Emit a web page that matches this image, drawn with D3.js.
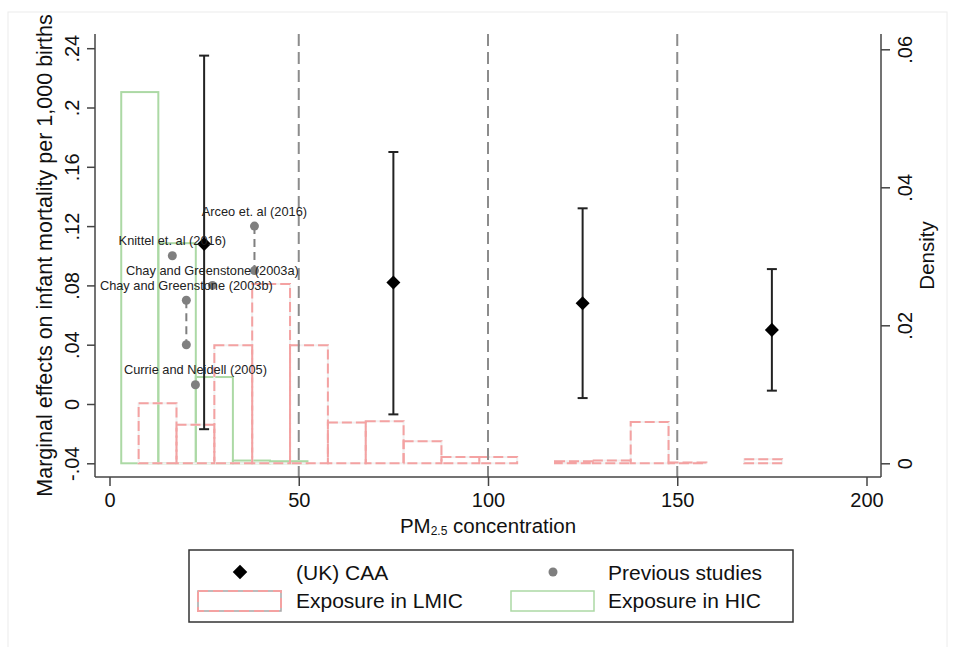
<!DOCTYPE html>
<html>
<head>
<meta charset="utf-8">
<script src="https://cdn.jsdelivr.net/npm/d3@7/dist/d3.min.js"></script>
<style>
  body { margin: 0; background: #fff; }
  svg { font-family: "Liberation Sans", Arial, Helvetica, sans-serif; }
</style>
</head>
<body>
<div id="chart"></div>
<script>
// UK Clean Air Act estimates (marginal effect per 10 units of PM2.5)
const caaX = [25, 75, 125, 175];
const caaEst = [0.108, 0.082, 0.068, 0.050];
const caaLo = [-0.017, -0.007, 0.004, 0.009];
const caaHi = [0.235, 0.170, 0.132, 0.091];

// previous studies
const studyNames = ["Arceo et. al (2016)", "", "Knittel et. al (2016)", "Chay and Greenstone (2003a)",
  "Chay and Greenstone (2003b)", "", "Currie and Neidell (2005)"];
const studyX = [38.3, 38.3, 16.6, 27.2, 20.3, 20.3, 22.7];
const studyY = [0.12, 0.09, 0.10, 0.08, 0.07, 0.04, 0.013];
const studyRanges = [[0, 1], [4, 5]]; // pairs joined by dashed line

// histograms of exposure (density)
const hicEdges = [3.1, 12.9, 22.8, 32.6, 42.4, 52.3];
const hicDensity = [0.0538, 0.0319, 0.0125, 0.0004, 0.0003];
const lmicEdges = [7.7, 17.7, 27.7, 37.7, 47.7, 57.7, 67.7, 77.7, 87.7, 97.7, 107.7,
  117.7, 127.7, 137.7, 147.7, 157.7, 167.7, 177.7];
const lmicDensity = [0.0087, 0.0056, 0.0171, 0.026, 0.0171, 0.0059, 0.0061, 0.0032, 0.0009,
  0.0009, 0, 0.0003, 0.0004, 0.006, 0.0001, 0, 0.0006];

const xTicks = [0, 50, 100, 150, 200];
const yTicks = [-0.04, 0, 0.04, 0.08, 0.12, 0.16, 0.2, 0.24];
const yTickLabels = ["-.04", "0", ".04", ".08", ".12", ".16", ".2", ".24"];
const dTicks = [0, 0.02, 0.04, 0.06];
const dTickLabels = ["0", ".02", ".04", ".06"];
const refLines = [50, 100, 150];

const width = 955, height = 647;
const pLeft = 95, pRight = 881, pTop = 34, pBottom = 477;

const svg = d3.select("#chart").append("svg")
  .attr("width", width)
  .attr("height", height);

// faint outer frame
svg.append("rect")
  .attr("x", 8).attr("y", 12).attr("width", 939).attr("height", 660)
  .attr("fill", "none").attr("stroke", "#ececec").attr("stroke-width", 1);

const x = d3.scaleLinear().domain([0, 200]).range([109.5, 866.5]);
const y = d3.scaleLinear().domain([-0.04, 0.24]).range([463.3, 48.2]);
const yd = d3.scaleLinear().domain([0, 0.06]).range([463.3, 49.3]);

const green = "#acd9a5";
const pink = "#f4a2a2";

// HIC histogram
const hic = hicDensity.map((d, i) => ({ x0: hicEdges[i], x1: hicEdges[i + 1], d }));
svg.append("g").selectAll("rect").data(hic).join("rect")
  .attr("x", d => x(d.x0))
  .attr("y", d => yd(d.d))
  .attr("width", d => x(d.x1) - x(d.x0))
  .attr("height", d => yd(0) - yd(d.d))
  .attr("fill", "none")
  .attr("stroke", green)
  .attr("stroke-width", 2);

// LMIC histogram (dashed)
const lmic = lmicDensity.map((d, i) => ({ x0: lmicEdges[i], x1: lmicEdges[i + 1], d }))
  .filter(d => d.d > 0);
const lmicG = svg.append("g");
lmicG.selectAll("rect.under").data(lmic).join("rect")
  .attr("class", "under")
  .attr("x", d => x(d.x0))
  .attr("y", d => yd(d.d))
  .attr("width", d => x(d.x1) - x(d.x0))
  .attr("height", d => yd(0) - yd(d.d))
  .attr("fill", "none")
  .attr("stroke", "#f1f1f1")
  .attr("stroke-width", 2);
lmicG.selectAll("rect.dash").data(lmic).join("rect")
  .attr("class", "dash")
  .attr("x", d => x(d.x0))
  .attr("y", d => yd(d.d))
  .attr("width", d => x(d.x1) - x(d.x0))
  .attr("height", d => yd(0) - yd(d.d))
  .attr("fill", "none")
  .attr("stroke", pink)
  .attr("stroke-width", 2)
  .attr("stroke-dasharray", "10,4");

// reference lines
svg.append("g").selectAll("line").data(refLines).join("line")
  .attr("x1", d => x(d)).attr("x2", d => x(d))
  .attr("y1", pTop).attr("y2", pBottom)
  .attr("stroke", "#8c8c8c")
  .attr("stroke-width", 2)
  .attr("stroke-dasharray", "12,6");

// previous studies: dashed connectors, dots, labels
svg.append("g").selectAll("line").data(studyRanges).join("line")
  .attr("x1", d => x(studyX[d[0]])).attr("x2", d => x(studyX[d[1]]))
  .attr("y1", d => y(studyY[d[0]])).attr("y2", d => y(studyY[d[1]]))
  .attr("stroke", "#7f7f7f")
  .attr("stroke-width", 2)
  .attr("stroke-dasharray", "8,5");

svg.append("g").selectAll("circle").data(studyX).join("circle")
  .attr("cx", d => x(d))
  .attr("cy", (d, i) => y(studyY[i]))
  .attr("r", 4.5)
  .attr("fill", "#7f7f7f");

// CAA error bars and diamonds
const caa = svg.append("g");
caaX.forEach((cx, i) => {
  const px = x(cx);
  caa.append("line")
    .attr("x1", px).attr("x2", px)
    .attr("y1", y(caaLo[i])).attr("y2", y(caaHi[i]))
    .attr("stroke", "#222").attr("stroke-width", 2);
  [caaLo[i], caaHi[i]].forEach(v => {
    caa.append("line")
      .attr("x1", px - 5).attr("x2", px + 5)
      .attr("y1", y(v)).attr("y2", y(v))
      .attr("stroke", "#222").attr("stroke-width", 2);
  });
});
const diamond = d3.symbol().type(d3.symbolDiamond2).size(125);
caa.selectAll("path").data(caaX).join("path")
  .attr("d", diamond)
  .attr("transform", (d, i) => `translate(${x(d)},${y(caaEst[i])})`)
  .attr("fill", "#000");

svg.append("g").selectAll("text").data(studyX).join("text")
  .attr("x", d => x(d))
  .attr("y", (d, i) => y(studyY[i]) - 10.5)
  .attr("text-anchor", "middle")
  .attr("font-size", 12.8)
  .attr("fill", "#222")
  .text((d, i) => studyNames[i]);

// axes
const axisColor = "#444";
svg.append("line").attr("x1", pLeft).attr("x2", pLeft).attr("y1", pTop).attr("y2", pBottom)
  .attr("stroke", axisColor).attr("stroke-width", 1.5);
svg.append("line").attr("x1", pRight).attr("x2", pRight).attr("y1", pTop).attr("y2", pBottom)
  .attr("stroke", axisColor).attr("stroke-width", 1.5);
svg.append("line").attr("x1", pLeft).attr("x2", pRight).attr("y1", pBottom).attr("y2", pBottom)
  .attr("stroke", axisColor).attr("stroke-width", 1.5);

const yAxis = svg.append("g")
  .attr("transform", `translate(${pLeft},0)`)
  .call(d3.axisLeft(y).tickValues(yTicks).tickSize(8).tickSizeOuter(0)
    .tickFormat((d, i) => yTickLabels[i]));
yAxis.select(".domain").remove();
yAxis.selectAll("line").attr("stroke", axisColor).attr("stroke-width", 1.5);
yAxis.selectAll("text")
  .attr("x", null).attr("dy", "0.35em")
  .attr("transform", "translate(-23,0) rotate(-90)")
  .attr("text-anchor", "middle")
  .attr("font-size", 20).attr("fill", "#111");

const dAxis = svg.append("g")
  .attr("transform", `translate(${pRight},0)`)
  .call(d3.axisRight(yd).tickValues(dTicks).tickSize(9).tickSizeOuter(0)
    .tickFormat((d, i) => dTickLabels[i]));
dAxis.select(".domain").remove();
dAxis.selectAll("line").attr("stroke", axisColor).attr("stroke-width", 1.5);
dAxis.selectAll("text")
  .attr("x", null).attr("dy", "0.35em")
  .attr("transform", "translate(24,0) rotate(-90)")
  .attr("text-anchor", "middle")
  .attr("font-size", 20).attr("fill", "#111");

const xAxis = svg.append("g")
  .attr("transform", `translate(0,${pBottom})`)
  .call(d3.axisBottom(x).tickValues(xTicks).tickSize(9).tickSizeOuter(0));
xAxis.select(".domain").remove();
xAxis.selectAll("line").attr("stroke", axisColor).attr("stroke-width", 1.5);
xAxis.selectAll("text")
  .attr("y", 30).attr("dy", null)
  .attr("font-size", 20).attr("fill", "#111");

// axis titles
const xt = svg.append("text")
  .attr("x", (pLeft + pRight) / 2).attr("y", 533)
  .attr("text-anchor", "middle")
  .attr("font-size", 20.5).attr("fill", "#111");
xt.append("tspan").text("PM");
xt.append("tspan").attr("font-size", 12).attr("dy", 2).text("2.5");
xt.append("tspan").attr("dy", -2).text(" concentration");

svg.append("text")
  .attr("transform", `translate(52,${(pTop + pBottom) / 2}) rotate(-90)`)
  .attr("text-anchor", "middle")
  .attr("font-size", 21.5).attr("fill", "#111")
  .text("Marginal effects on infant mortality per 1,000 births");

svg.append("text")
  .attr("transform", `translate(934,${(pTop + pBottom) / 2}) rotate(-90)`)
  .attr("text-anchor", "middle")
  .attr("font-size", 20.5).attr("fill", "#111")
  .text("Density");

// legend
const lg = svg.append("g");
lg.append("rect")
  .attr("x", 189).attr("y", 550).attr("width", 604).attr("height", 72)
  .attr("fill", "#fff").attr("stroke", "#333").attr("stroke-width", 1.5);
lg.append("path")
  .attr("d", d3.symbol().type(d3.symbolDiamond2).size(135))
  .attr("transform", "translate(240,572)")
  .attr("fill", "#000");
lg.append("circle").attr("cx", 553).attr("cy", 572).attr("r", 4.5).attr("fill", "#7f7f7f");
lg.append("rect")
  .attr("x", 198).attr("y", 591).attr("width", 83).attr("height", 20)
  .attr("fill", "none").attr("stroke", "#a6a6a6").attr("stroke-width", 1.5);
lg.append("rect")
  .attr("x", 198).attr("y", 591).attr("width", 83).attr("height", 20)
  .attr("fill", "none").attr("stroke", pink).attr("stroke-width", 2)
  .attr("stroke-dasharray", "10,5");
lg.append("rect")
  .attr("x", 511).attr("y", 591).attr("width", 83).attr("height", 20)
  .attr("fill", "none").attr("stroke", green).attr("stroke-width", 1.5);

const legendText = [["(UK) CAA", 296, 580], ["Previous studies", 608, 580],
  ["Exposure in LMIC", 296, 607.5], ["Exposure in HIC", 608, 607.5]];
lg.selectAll("text").data(legendText).join("text")
  .attr("x", d => d[1]).attr("y", d => d[2])
  .attr("font-size", 21).attr("fill", "#111")
  .text(d => d[0]);
</script>
</body>
</html>
